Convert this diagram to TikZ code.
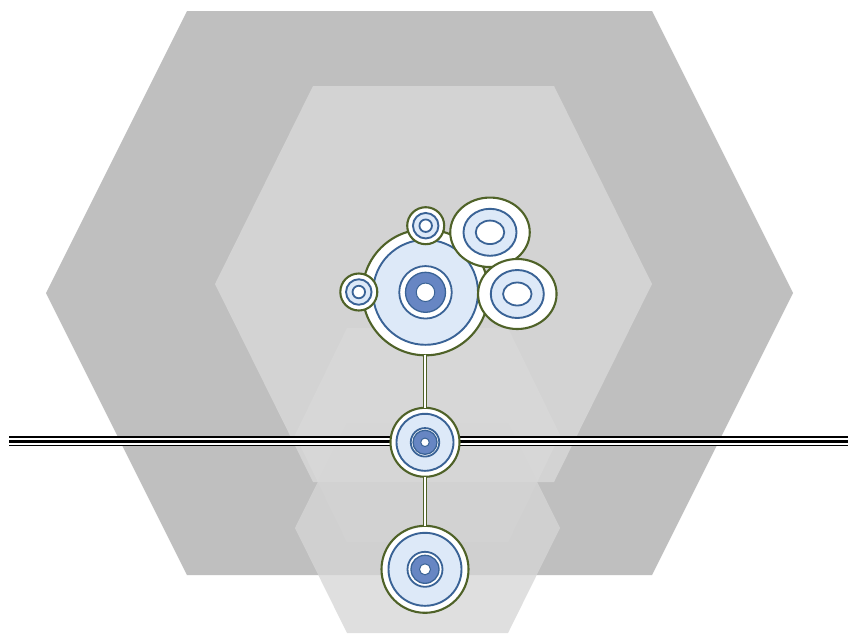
\documentclass[tikz,border=0pt]{standalone}
\usetikzlibrary{shapes.geometric}
\definecolor{hexA}{HTML}{BFBFBF}
\definecolor{hexB}{HTML}{D3D3D3}
\definecolor{hexD}{HTML}{D6D6D6}
\definecolor{ogreen}{HTML}{4F6228}
\definecolor{bblue}{HTML}{3A6396}
\definecolor{lblue}{HTML}{DDE9F8}
\definecolor{dblue}{HTML}{6786C3}
\tikzset{
 greenring/.style={circle, draw=ogreen, line width=2.1pt, fill=white, inner sep=0pt, outer sep=0pt},
 greenoval/.style={ellipse, draw=ogreen, line width=2.1pt, fill=white, inner sep=0pt, outer sep=0pt},
 bluedisc/.style={circle, draw=bblue, line width=1.9pt, fill=lblue, inner sep=0pt},
 blueoval/.style={ellipse, draw=bblue, line width=1.9pt, fill=lblue, inner sep=0pt},
 whitedisc/.style={circle, draw=bblue, line width=1.8pt, fill=white, inner sep=0pt},
 whiteoval/.style={ellipse, draw=bblue, line width=1.8pt, fill=white, inner sep=0pt},
 darkdisc/.style={circle, draw=bblue, line width=1.3pt, fill=dblue, inner sep=0pt},
 holedisc/.style={circle, draw=bblue, line width=1pt, fill=white, inner sep=0pt},
 link/.style={draw=ogreen, line width=1.7pt, double=white, double distance=1.3pt},
}
\begin{document}
\begin{tikzpicture}[x=1pt,y=-1pt]
\useasboundingbox (0,0) rectangle (848,633);
\fill[white] (0,0) rectangle (848,633);
% hexagons
\fill[hexA] (187,11) -- (652,11) -- (793,293) -- (652,575) -- (187,575) -- (46,293) -- cycle;
\fill[hexB] (313,86) -- (554,86) -- (652,284) -- (554,482) -- (313,482) -- (215,284) -- cycle;
\fill[white, opacity=0.1] (347,328) -- (508,328) -- (560,435) -- (508,542) -- (347,542) -- (295,435) -- cycle;
\fill[hexD, opacity=0.78] (347,423) -- (508,423) -- (560,528) -- (508,633) -- (347,633) -- (295,528) -- cycle;
% horizontal triple line
\coordinate (hl) at (9,441.3);
\coordinate (hr) at (848,441.3);
\draw[black, line width=10pt] (hl) -- (hr);
\draw[white, line width=1.9pt] ([yshift=-2.3pt]hl) -- ([yshift=-2.3pt]hr);
\draw[white, line width=1.6pt] ([yshift=2.4pt]hl) -- ([yshift=2.4pt]hr);
% big node
\node[greenring, minimum size=126pt] (big) at (425.5,292.3) {};
\node[bluedisc, minimum size=105pt] (bigb) at (big.center) {};
\node[whitedisc, minimum size=52.5pt] (bigw) at (big.center) {};
\node[darkdisc, minimum size=40pt] (bigd) at (big.center) {};
\node[holedisc, minimum size=18.5pt] (bigh) at (big.center) {};
% left small
\node[greenring, minimum size=37pt] (ls) at (358.8,292) {};
\node[bluedisc, minimum size=25.5pt] (lsb) at (ls.center) {};
\node[whitedisc, minimum size=12.5pt] (lsw) at (ls.center) {};
% top small
\node[greenring, minimum size=37pt] (ts) at (425.7,225.7) {};
\node[bluedisc, minimum size=25.5pt] (tsb) at (ts.center) {};
\node[whitedisc, minimum size=12.5pt] (tsw) at (ts.center) {};
% upper oval
\node[greenoval, minimum width=79.5pt, minimum height=69.5pt] (e1) at (490,232.3) {};
\node[blueoval, minimum width=53pt, minimum height=47pt] (e1b) at (e1.center) {};
\node[whiteoval, minimum width=28.5pt, minimum height=23.5pt] (e1w) at (e1.center) {};
% lower oval
\node[greenoval, minimum width=78.5pt, minimum height=70pt] (e2) at (517.3,294) {};
\node[blueoval, minimum width=53pt, minimum height=48pt] (e2b) at (e2.center) {};
\node[whiteoval, minimum width=28.5pt, minimum height=23pt] (e2w) at (e2.center) {};
% middle node
\node[greenring, minimum size=69pt] (mid) at (425,442.3) {};
\node[bluedisc, minimum size=57pt] (midb) at (mid.center) {};
\node[whitedisc, minimum size=28.5pt] (midw) at (mid.center) {};
\node[darkdisc, minimum size=24pt] (midd) at (mid.center) {};
\node[holedisc, minimum size=8.5pt] (midh) at (mid.center) {};
% bottom node
\node[greenring, minimum size=87pt] (bot) at (425,569.3) {};
\node[bluedisc, minimum size=73pt] (botb) at (bot.center) {};
\node[whitedisc, minimum size=35pt] (botw) at (bot.center) {};
\node[darkdisc, minimum size=28pt] (botd) at (bot.center) {};
\node[holedisc, minimum size=11pt] (both) at (bot.center) {};
% connectors
\draw[link] (mid.north |- big.south) -- (mid.north);
\draw[link] (mid.south) -- (bot.north);
\end{tikzpicture}
\end{document}
